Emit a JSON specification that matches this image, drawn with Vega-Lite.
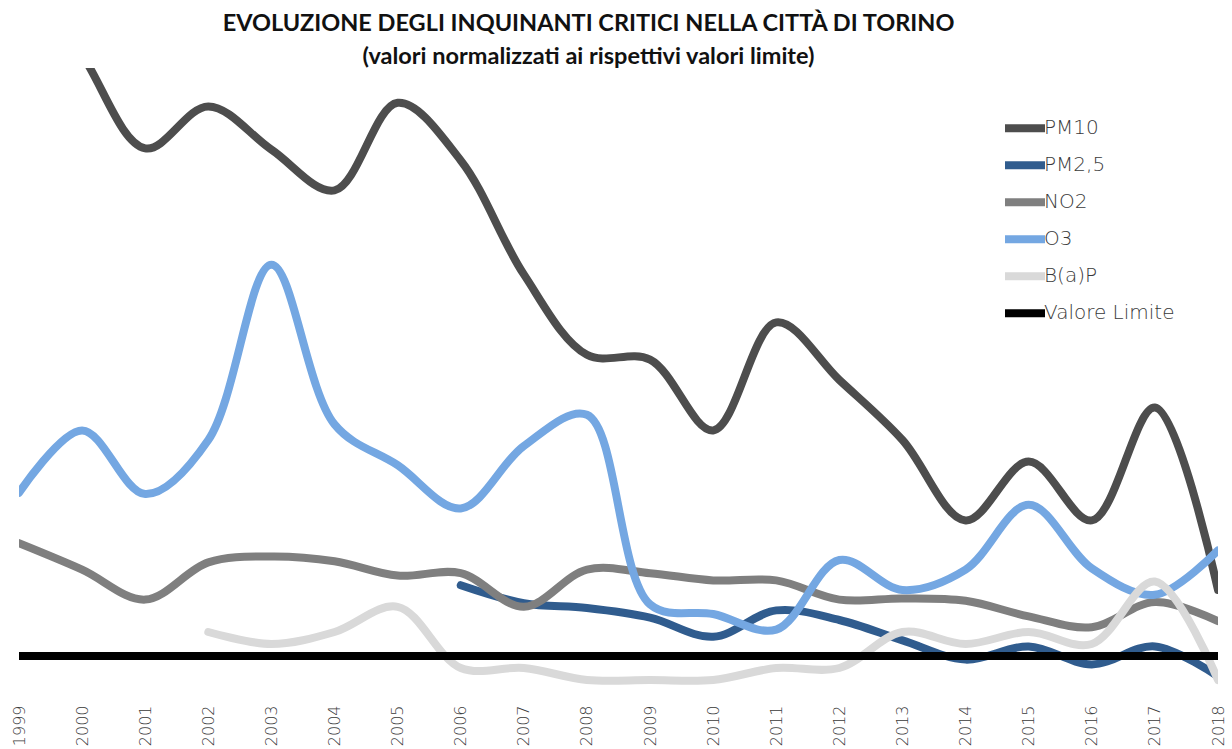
{
  "$schema": "https://vega.github.io/schema/vega-lite/v6.json",
  "autosize": {"type": "none"},
  "width": 1199,
  "height": 624,
  "padding": {"left": 19, "top": 68, "right": 14, "bottom": 57},
  "background": "white",
  "title": {
    "text": ["EVOLUZIONE DEGLI INQUINANTI CRITICI NELLA CITTÀ DI TORINO", "(valori normalizzati ai rispettivi valori limite)"],
    "font": "Lato",
    "fontSize": 23.5,
    "fontWeight": "bold",
    "color": "#111111",
    "lineHeight": 33,
    "anchor": "middle",
    "dx": -30,
    "offset": 0
  },
  "data": {
    "values": [
      {"anno": "1999", "serie": "PM10", "valore": 6.8},
      {"anno": "2000", "serie": "PM10", "valore": 6.01},
      {"anno": "2001", "serie": "PM10", "valore": 5.23},
      {"anno": "2002", "serie": "PM10", "valore": 5.58},
      {"anno": "2003", "serie": "PM10", "valore": 5.22},
      {"anno": "2004", "serie": "PM10", "valore": 4.88},
      {"anno": "2005", "serie": "PM10", "valore": 5.61},
      {"anno": "2006", "serie": "PM10", "valore": 5.13},
      {"anno": "2007", "serie": "PM10", "valore": 4.18},
      {"anno": "2008", "serie": "PM10", "valore": 3.51},
      {"anno": "2009", "serie": "PM10", "valore": 3.47},
      {"anno": "2010", "serie": "PM10", "valore": 2.88},
      {"anno": "2011", "serie": "PM10", "valore": 3.78},
      {"anno": "2012", "serie": "PM10", "valore": 3.30},
      {"anno": "2013", "serie": "PM10", "valore": 2.80},
      {"anno": "2014", "serie": "PM10", "valore": 2.13},
      {"anno": "2015", "serie": "PM10", "valore": 2.62},
      {"anno": "2016", "serie": "PM10", "valore": 2.13},
      {"anno": "2017", "serie": "PM10", "valore": 3.07},
      {"anno": "2018", "serie": "PM10", "valore": 1.55},

      {"anno": "2006", "serie": "PM2,5", "valore": 1.59},
      {"anno": "2007", "serie": "PM2,5", "valore": 1.44},
      {"anno": "2008", "serie": "PM2,5", "valore": 1.40},
      {"anno": "2009", "serie": "PM2,5", "valore": 1.32},
      {"anno": "2010", "serie": "PM2,5", "valore": 1.16},
      {"anno": "2011", "serie": "PM2,5", "valore": 1.38},
      {"anno": "2012", "serie": "PM2,5", "valore": 1.30},
      {"anno": "2013", "serie": "PM2,5", "valore": 1.13},
      {"anno": "2014", "serie": "PM2,5", "valore": 0.97},
      {"anno": "2015", "serie": "PM2,5", "valore": 1.08},
      {"anno": "2016", "serie": "PM2,5", "valore": 0.93},
      {"anno": "2017", "serie": "PM2,5", "valore": 1.08},
      {"anno": "2018", "serie": "PM2,5", "valore": 0.83},

      {"anno": "1999", "serie": "NO2", "valore": 1.94},
      {"anno": "2000", "serie": "NO2", "valore": 1.72},
      {"anno": "2001", "serie": "NO2", "valore": 1.47},
      {"anno": "2002", "serie": "NO2", "valore": 1.78},
      {"anno": "2003", "serie": "NO2", "valore": 1.83},
      {"anno": "2004", "serie": "NO2", "valore": 1.79},
      {"anno": "2005", "serie": "NO2", "valore": 1.67},
      {"anno": "2006", "serie": "NO2", "valore": 1.69},
      {"anno": "2007", "serie": "NO2", "valore": 1.41},
      {"anno": "2008", "serie": "NO2", "valore": 1.72},
      {"anno": "2009", "serie": "NO2", "valore": 1.69},
      {"anno": "2010", "serie": "NO2", "valore": 1.63},
      {"anno": "2011", "serie": "NO2", "valore": 1.63},
      {"anno": "2012", "serie": "NO2", "valore": 1.47},
      {"anno": "2013", "serie": "NO2", "valore": 1.48},
      {"anno": "2014", "serie": "NO2", "valore": 1.46},
      {"anno": "2015", "serie": "NO2", "valore": 1.33},
      {"anno": "2016", "serie": "NO2", "valore": 1.24},
      {"anno": "2017", "serie": "NO2", "valore": 1.45},
      {"anno": "2018", "serie": "NO2", "valore": 1.29},

      {"anno": "1999", "serie": "O3", "valore": 2.36},
      {"anno": "2000", "serie": "O3", "valore": 2.88},
      {"anno": "2001", "serie": "O3", "valore": 2.35},
      {"anno": "2002", "serie": "O3", "valore": 2.80},
      {"anno": "2003", "serie": "O3", "valore": 4.26},
      {"anno": "2004", "serie": "O3", "valore": 2.93},
      {"anno": "2005", "serie": "O3", "valore": 2.59},
      {"anno": "2006", "serie": "O3", "valore": 2.23},
      {"anno": "2007", "serie": "O3", "valore": 2.75},
      {"anno": "2008", "serie": "O3", "valore": 3.01},
      {"anno": "2009", "serie": "O3", "valore": 1.43},
      {"anno": "2010", "serie": "O3", "valore": 1.35},
      {"anno": "2011", "serie": "O3", "valore": 1.22},
      {"anno": "2012", "serie": "O3", "valore": 1.80},
      {"anno": "2013", "serie": "O3", "valore": 1.55},
      {"anno": "2014", "serie": "O3", "valore": 1.72},
      {"anno": "2015", "serie": "O3", "valore": 2.26},
      {"anno": "2016", "serie": "O3", "valore": 1.73},
      {"anno": "2017", "serie": "O3", "valore": 1.51},
      {"anno": "2018", "serie": "O3", "valore": 1.88},

      {"anno": "2002", "serie": "B(a)P", "valore": 1.20},
      {"anno": "2003", "serie": "B(a)P", "valore": 1.10},
      {"anno": "2004", "serie": "B(a)P", "valore": 1.20},
      {"anno": "2005", "serie": "B(a)P", "valore": 1.41},
      {"anno": "2006", "serie": "B(a)P", "valore": 0.90},
      {"anno": "2007", "serie": "B(a)P", "valore": 0.90},
      {"anno": "2008", "serie": "B(a)P", "valore": 0.80},
      {"anno": "2009", "serie": "B(a)P", "valore": 0.80},
      {"anno": "2010", "serie": "B(a)P", "valore": 0.80},
      {"anno": "2011", "serie": "B(a)P", "valore": 0.90},
      {"anno": "2012", "serie": "B(a)P", "valore": 0.90},
      {"anno": "2013", "serie": "B(a)P", "valore": 1.20},
      {"anno": "2014", "serie": "B(a)P", "valore": 1.10},
      {"anno": "2015", "serie": "B(a)P", "valore": 1.20},
      {"anno": "2016", "serie": "B(a)P", "valore": 1.10},
      {"anno": "2017", "serie": "B(a)P", "valore": 1.62},
      {"anno": "2018", "serie": "B(a)P", "valore": 0.80},

      {"anno": "1999", "serie": "Valore Limite", "valore": 1},
      {"anno": "2000", "serie": "Valore Limite", "valore": 1},
      {"anno": "2001", "serie": "Valore Limite", "valore": 1},
      {"anno": "2002", "serie": "Valore Limite", "valore": 1},
      {"anno": "2003", "serie": "Valore Limite", "valore": 1},
      {"anno": "2004", "serie": "Valore Limite", "valore": 1},
      {"anno": "2005", "serie": "Valore Limite", "valore": 1},
      {"anno": "2006", "serie": "Valore Limite", "valore": 1},
      {"anno": "2007", "serie": "Valore Limite", "valore": 1},
      {"anno": "2008", "serie": "Valore Limite", "valore": 1},
      {"anno": "2009", "serie": "Valore Limite", "valore": 1},
      {"anno": "2010", "serie": "Valore Limite", "valore": 1},
      {"anno": "2011", "serie": "Valore Limite", "valore": 1},
      {"anno": "2012", "serie": "Valore Limite", "valore": 1},
      {"anno": "2013", "serie": "Valore Limite", "valore": 1},
      {"anno": "2014", "serie": "Valore Limite", "valore": 1},
      {"anno": "2015", "serie": "Valore Limite", "valore": 1},
      {"anno": "2016", "serie": "Valore Limite", "valore": 1},
      {"anno": "2017", "serie": "Valore Limite", "valore": 1},
      {"anno": "2018", "serie": "Valore Limite", "valore": 1}
    ]
  },
  "mark": {"type": "line", "interpolate": "catmull-rom", "clip": true, "strokeCap": "round", "strokeJoin": "round"},
  "encoding": {
    "x": {
      "field": "anno",
      "type": "ordinal",
      "scale": {"type": "point", "padding": 0},
      "axis": {
        "title": null,
        "labelAngle": 270,
        "domain": false,
        "ticks": false,
        "grid": false,
        "labelFont": "DejaVu Sans",
        "labelFontWeight": 200,
        "labelFontSize": 16,
        "labelColor": "#3a3a3a",
        "labelPadding": 13
      }
    },
    "y": {
      "field": "valore",
      "type": "quantitative",
      "scale": {"domain": [0.7, 5.9], "nice": false, "zero": false},
      "axis": null
    },
    "color": {
      "field": "serie",
      "type": "nominal",
      "scale": {
        "domain": ["PM10", "PM2,5", "NO2", "O3", "B(a)P", "Valore Limite"],
        "range": ["#4d4d4d", "#305c8e", "#7f7f7f", "#74a7e2", "#d9d9d9", "#000000"]
      },
      "legend": {
        "title": null,
        "orient": "none",
        "legendX": 982,
        "legendY": 42,
        "symbolType": "stroke",
        "symbolSize": 1600,
        "clipHeight": 36.6,
        "labelFont": "DejaVu Sans",
        "labelFontWeight": 200,
        "labelFontSize": 20,
        "labelColor": "#3a3a3a",
        "labelOffset": -5,
        "rowPadding": 0
      }
    },
    "strokeWidth": {
      "field": "serie",
      "type": "nominal",
      "scale": {
        "domain": ["PM10", "PM2,5", "NO2", "O3", "B(a)P", "Valore Limite"],
        "range": [8, 8, 8, 8, 8, 4.5]
      },
      "legend": null
    }
  },
  "config": {"view": {"stroke": null}}
}
